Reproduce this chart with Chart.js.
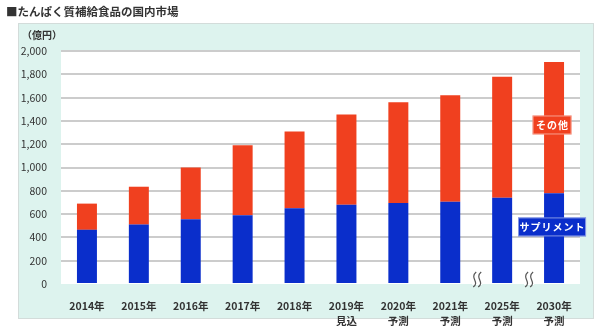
<!DOCTYPE html>
<html>
<head>
<meta charset="utf-8">
<script src="https://cdn.jsdelivr.net/npm/chart.js@4/dist/chart.umd.min.js"></script>
<style>
  html, body { margin: 0; padding: 0; background: #fff; }
  #wrap { width: 600px; height: 326px; }
</style>
</head>
<body>
<div id="wrap"><canvas id="mainCanvas" width="600" height="326"></canvas></div>
<script>
const YEARS = [['2014年'], ['2015年'], ['2016年'], ['2017年'], ['2018年'],
               ['2019年', '見込'], ['2020年', '予測'], ['2021年', '予測'],
               ['2025年', '予測'], ['2030年', '予測']];
const SUPPLEMENT = [465, 510, 555, 590, 650, 680, 695, 705, 740, 780];
const OTHERS = [225, 325, 445, 600, 660, 775, 865, 915, 1040, 1125];
const Y_TICKS = [0, 200, 400, 600, 800, 1000, 1200, 1400, 1600, 1800, 2000];

const RED = '#f0401f';
const BLUE = '#0a2ecb';
const MINT = '#ddf3ee';
const FONT = '"Noto Sans CJK JP", "Noto Sans", sans-serif';

const backdrop = {
    id: 'backdrop',
    beforeDraw(c) {
        const ctx = c.ctx, a = c.chartArea;
        ctx.save();
        ctx.fillStyle = MINT;
        ctx.fillRect(18, 23, 576, 296);
        ctx.strokeStyle = '#d3dcda';
        ctx.lineWidth = 1;
        ctx.strokeRect(18.5, 23.5, 575, 295);
        ctx.fillStyle = '#fff';
        ctx.fillRect(a.left, a.top - 1, a.right - a.left, a.bottom - a.top + 1);
        // title and unit
        ctx.fillStyle = '#333';
        ctx.textBaseline = 'middle';
        ctx.font = 'bold 11.5px ' + FONT;
        ctx.fillText('■たんぱく質補給食品の国内市場', 6, 12);
        ctx.font = 'bold 10px ' + FONT;
        ctx.fillText('（億円）', 22, 35);
        ctx.restore();
    },
    afterDraw(c) {
        const ctx = c.ctx;
        const xs = c.scales.x, ys = c.scales.y;
        ctx.save();
        // axis break marks
        const y0 = ys.getPixelForValue(0);
        [7.5, 8.5].forEach(v => {
            const x = xs.getPixelForValue(v);
            const s = dx => {
                ctx.moveTo(x + dx + 2, y0 - 12);
                ctx.bezierCurveTo(x + dx - 5, y0 - 6, x + dx + 6, y0 - 2, x + dx - 1, y0 + 3);
            };
            ctx.fillStyle = '#fff';
            ctx.fillRect(x - 4, y0 - 1, 10, 2);
            ctx.strokeStyle = '#555';
            ctx.lineWidth = 1.2;
            ctx.beginPath();
            s(-2);
            ctx.stroke();
            ctx.beginPath();
            s(3);
            ctx.stroke();
        });
        // series labels
        const tag = (text, color, yVal, w) => {
            const cx = xs.getPixelForValue(9) - 2;
            const cy = ys.getPixelForValue(yVal);
            ctx.fillStyle = color;
            ctx.fillRect(cx - w / 2, cy - 9.5, w, 19);
            ctx.strokeStyle = 'rgba(255,255,255,0.5)';
            ctx.lineWidth = 1;
            ctx.strokeRect(cx - w / 2 + 0.5, cy - 9, w - 1, 18);
            ctx.fillStyle = '#fff';
            ctx.font = 'bold 10px ' + FONT;
            ctx.textAlign = 'center';
            ctx.textBaseline = 'middle';
            ctx.letterSpacing = '1px';
            ctx.fillText(text, cx + 0.5, cy);
        };
        tag('その他', RED, 1365, 39);
        tag('サプリメント', BLUE, 490, 68);
        ctx.restore();
    }
};

new Chart(document.getElementById('mainCanvas'), {
    type: 'bar',
    data: {
        labels: YEARS,
        datasets: [
            { label: 'サプリメント', data: SUPPLEMENT, backgroundColor: BLUE },
            { label: 'その他', data: OTHERS, backgroundColor: RED }
        ]
    },
    options: {
        responsive: false,
        animation: false,
        layout: { padding: { top: 51, right: 20, left: 0, bottom: 0 } },
        datasets: { bar: { barPercentage: 0.385, categoryPercentage: 1.0 } },
        plugins: { legend: { display: false }, tooltip: { enabled: false } },
        scales: {
            x: {
                stacked: true,
                grid: { display: false },
                border: { display: false },
                ticks: {
                    color: '#333', padding: 6, maxRotation: 0, autoSkip: false,
                    font: { family: FONT, size: 10.5, weight: 'bold', lineHeight: 1.45 }
                },
                afterFit: s => { s.height = 42; }
            },
            y: {
                stacked: true,
                min: 0, max: 2000,
                afterBuildTicks: s => { s.ticks = Y_TICKS.map(v => ({ value: v })); },
                grid: {
                    drawTicks: false,
                    lineWidth: 2,
                    color: ctx => ctx.tick && ctx.tick.value === 0 ? 'rgba(0,0,0,0)' : '#cccccc'
                },
                border: { display: false },
                ticks: {
                    color: '#333', padding: 14,
                    font: { family: FONT, size: 10.5 },
                    callback: v => v.toLocaleString('en-US')
                },
                afterFit: s => { s.width = 61; }
            }
        }
    },
    plugins: [backdrop]
});
</script>
</body>
</html>
